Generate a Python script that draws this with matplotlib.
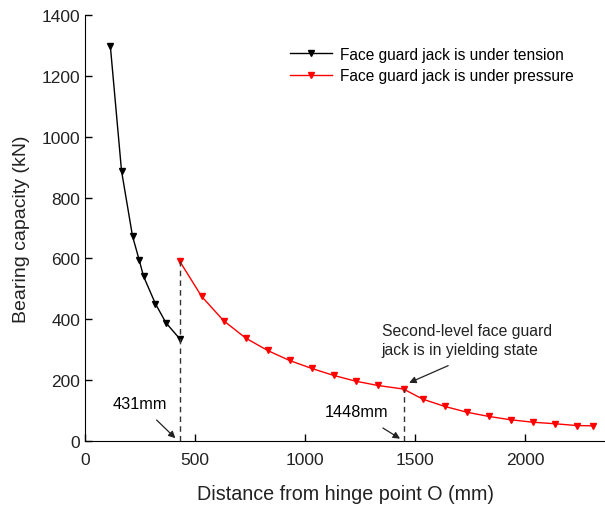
import matplotlib.pyplot as plt

plt.rcParams['font.family'] = ['Liberation Sans', 'DejaVu Sans']

# bearing capacity vs. distance from hinge point O
tension_x = [115, 166, 216, 247, 266, 320, 368, 431]
tension_y = [1300, 888, 673, 593, 541, 451, 388, 335]

pressure_x = [431, 530, 630, 730, 830, 930, 1030, 1130, 1230, 1330, 1448,
              1535, 1635, 1735, 1835, 1935, 2035, 2135, 2235, 2310]
pressure_y = [590, 475, 395, 338, 297, 264, 238, 215, 196, 182, 170,
              137, 113, 94, 80, 69, 61, 56, 50, 49]

switch_x, switch_y = 431, 590
yield_x, yield_y = 1448, 170

fig = plt.figure(figsize=(6.05, 5.06), dpi=100)
ax = fig.add_axes([0.1405, 0.127, 0.8595, 0.841])

ax.plot(tension_x, tension_y, color='black', lw=1, marker='v', ms=5,
        label='Face guard jack is under tension')
ax.plot(pressure_x, pressure_y, color='red', lw=1, marker='v', ms=5,
        label='Face guard jack is under pressure')

# dashed markers for the two critical positions
ax.plot([switch_x, switch_x], [0, switch_y], color='#333333', lw=1, ls=(0, (4, 3)))
ax.plot([yield_x, yield_x], [0, yield_y], color='#333333', lw=1, ls=(0, (4, 3)))

arrow = dict(arrowstyle='-|>', color='#222222', lw=0.9, mutation_scale=10)
ax.annotate('431mm', xy=(420, 2), xytext=(250, 121), fontsize=11.8,
            ha='center', va='center', arrowprops=dict(arrow, shrinkA=6))
ax.annotate('1448mm', xy=(1443, 2), xytext=(1236, 95), fontsize=11.8,
            ha='center', va='center', arrowprops=dict(arrow, shrinkA=8))
ax.annotate('', xy=(1462, 187), xytext=(1651, 247), arrowprops=dict(arrow, shrinkA=0))
ax.text(1349, 332, 'Second-level face guard\njack is in yielding state',
        fontsize=11.3, ha='left', va='center', linespacing=1.3, color='#222222')

ax.set_xlim(0, 2364)
ax.set_ylim(0, 1400)
ax.set_xticks([0, 500, 1000, 1500, 2000])
ax.set_yticks(range(0, 1401, 200))
ax.spines['top'].set_visible(False)
ax.spines['right'].set_visible(False)
ax.tick_params(direction='in', length=5, width=1, labelsize=12.5, labelcolor='#222222')
ax.tick_params(axis='x', pad=8)
ax.set_xlabel('Distance from hinge point O (mm)', fontsize=14.2, labelpad=12,
              color='#222222')
ax.set_ylabel('Bearing capacity (kN)', fontsize=14, labelpad=8, color='#222222')

ax.legend(loc='center left', bbox_to_anchor=(0.394, 0.883), frameon=False,
          fontsize=11.2, borderpad=0, borderaxespad=0, handlelength=2.7,
          handletextpad=0.5, labelspacing=0.4, markerscale=0.8)

fig.savefig('out.png', dpi=100)
